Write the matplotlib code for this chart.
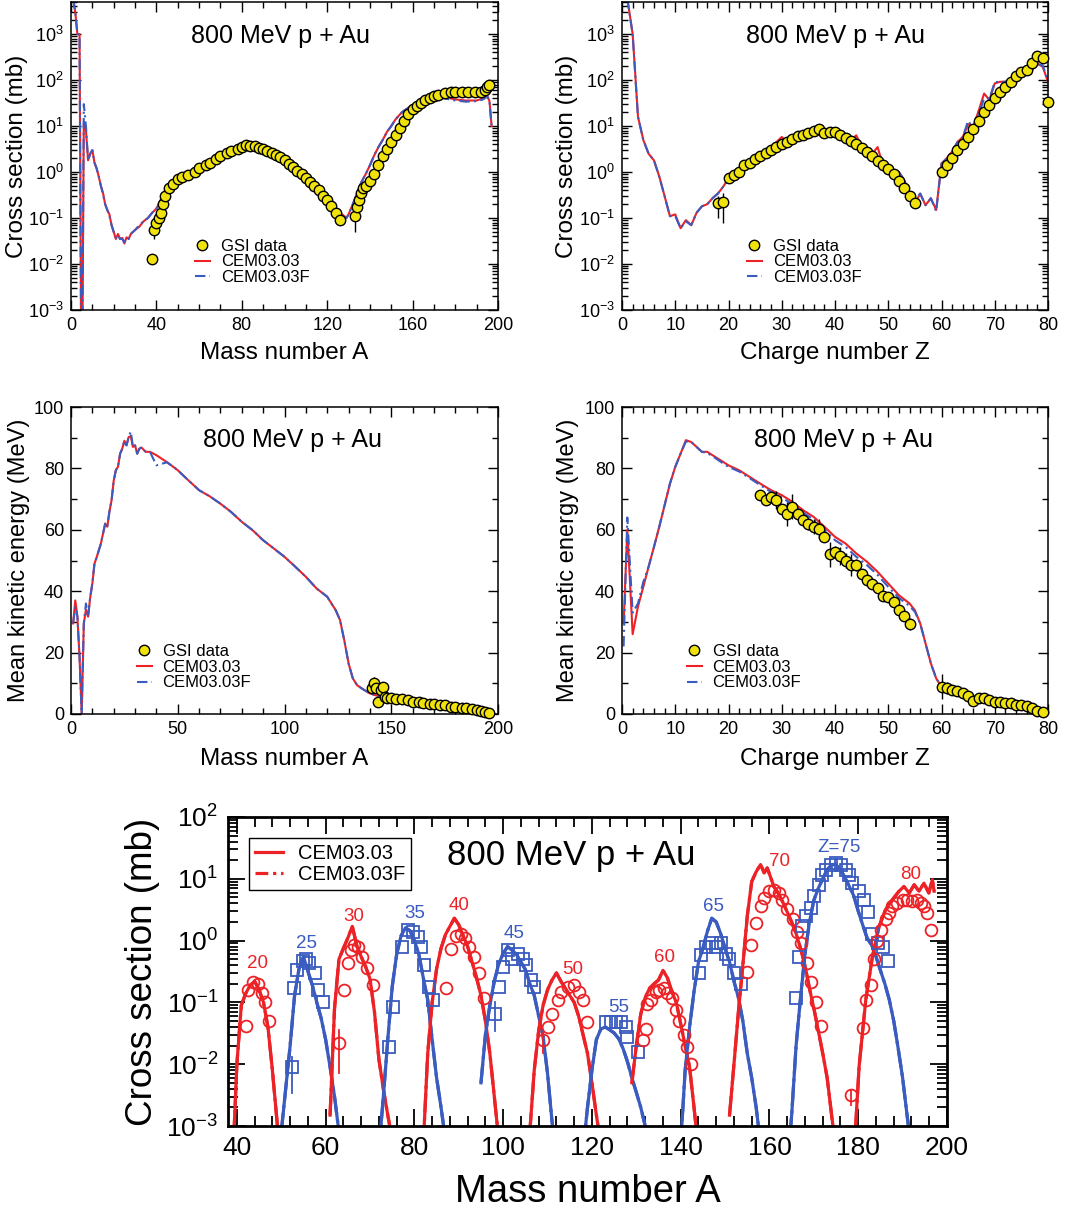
import matplotlib
matplotlib.use('Agg')
import matplotlib.pyplot as plt
from matplotlib.lines import Line2D
from matplotlib.ticker import MultipleLocator, LogLocator, NullFormatter
import numpy as np

plt.rcParams['font.family'] = ['Liberation Sans', 'DejaVu Sans']
plt.rcParams['mathtext.default'] = 'regular'

RED = '#ec2227'
BLUE = '#3a5bbf'
YEL = '#f0e20c'
DASHDOT = (0, (5, 2, 1, 2))

TITLE = '800 MeV p + Au'

# ---------------- Panel 1: mass distribution ----------------
mass_A = [1, 2, 3, 4, 5, 6, 7, 8, 9, 10, 11, 12, 13, 14, 15, 16, 17, 18, 19, 20, 21, 22, 23, 24, 25, 26, 27, 28,
          30, 32, 34, 36, 38, 40, 42, 44, 46, 48, 50,
          55, 60, 65, 70, 75, 80, 85, 90, 95, 100, 105, 110, 115, 120,
          122, 124, 126, 128, 129, 130, 132, 134, 136, 138, 140, 142, 144, 146, 148, 150, 152,
          155, 158, 160, 165, 170, 175, 180, 185, 190, 193, 195, 196, 197]
cem_mass = [6000, 3000, 1000, 1000, 1e-6, 12, 8, 1.8, 2.5, 3.0, 1.6, 1.2, 0.8, 0.5, 0.35, 0.2, 0.15, 0.12, 0.07, 0.05, 0.035, 0.045, 0.035, 0.037, 0.028, 0.038, 0.035, 0.045,
            0.055, 0.065, 0.085, 0.1, 0.13, 0.16, 0.25, 0.4, 0.5, 0.6, 0.75,
            1.0, 1.35, 1.7, 2.4, 3.0, 3.7, 4.0, 3.4, 2.6, 2.0, 1.35, 0.9, 0.55, 0.3,
            0.22, 0.16, 0.13, 0.11, 0.1, 0.12, 0.2, 0.35, 0.6, 0.9, 1.4, 2.3, 3.5, 5, 7.5, 10, 14,
            20, 25, 28, 35, 40, 43, 38, 36, 36, 40, 45, 35, 10]
cemF_mass = [6000, 3000, 1000, 1000, 1e-6, 30, 10, 1.8, 2.5, 3.0, 1.6, 1.2, 0.8, 0.5, 0.33, 0.2, 0.15, 0.11, 0.07, 0.05, 0.037, 0.042, 0.035, 0.035, 0.03, 0.036, 0.035, 0.045,
             0.055, 0.07, 0.085, 0.1, 0.13, 0.16, 0.24, 0.38, 0.5, 0.6, 0.72,
             1.0, 1.3, 1.7, 2.3, 3.0, 3.5, 3.8, 3.3, 2.5, 1.9, 1.3, 0.85, 0.52, 0.3,
             0.21, 0.15, 0.12, 0.1, 0.1, 0.12, 0.2, 0.35, 0.6, 0.9, 1.4, 2.3, 3.5, 5, 7.5, 10, 14,
             20, 25, 28, 33, 38, 40, 36, 34, 35, 38, 44, 35, 10]
gsi_mass_A = [38, 39, 40, 41, 42, 43, 44, 46, 48, 50, 52,
              55, 58, 60, 63, 65, 68, 70, 73, 75, 78, 80,
              82, 84, 86, 88, 90, 92, 94, 96, 98, 100, 102, 104, 106, 108, 110, 112, 114, 116, 118, 120, 122, 124, 126,
              133, 134, 135, 136, 137, 138,
              140, 142, 144, 146, 148, 150, 152, 154, 156, 158, 160, 162, 164, 166, 168, 170, 172,
              175, 178, 180, 183, 186, 189, 192, 194, 195, 196]
gsi_mass = [0.013, 0.055, 0.08, 0.1, 0.13, 0.2, 0.3, 0.45, 0.55, 0.7, 0.8,
            0.85, 1.0, 1.2, 1.4, 1.6, 1.9, 2.2, 2.6, 2.9, 3.2, 3.5,
            3.8, 3.7, 3.6, 3.4, 3.2, 2.9, 2.6, 2.3, 2.1, 1.8, 1.5, 1.3, 1.05, 0.9, 0.75, 0.6, 0.5, 0.4, 0.3, 0.25, 0.18, 0.13, 0.09,
            0.11, 0.17, 0.25, 0.35, 0.45, 0.5,
            0.65, 0.9, 1.4, 2.2, 3.2, 4.5, 6.5, 9, 13, 18, 23, 27, 32, 37, 41, 45, 48,
            52, 55, 56, 56, 55, 54, 56, 62, 70, 80]
err_mass_A = [39, 40, 133]
err_mass_lo = [0.035, 0.05, 0.05]
err_mass_hi = [0.07, 0.1, 0.13]

# ---------------- Panel 2: charge distribution ----------------
charge_Z = list(range(1, 81))
cem_charge = [6000, 1000, 16, 5, 2.5, 1.8, 0.8, 0.3, 0.11, 0.12, 0.06, 0.09, 0.07, 0.13, 0.18, 0.2, 0.27, 0.34, 0.48, 0.73,
              0.85, 1.1, 1.4, 1.55, 2.0, 2.3, 3.0, 3.5, 4.5, 5.8, 4.5, 6.3, 6.3, 7.5, 7.5, 8.9, 8.9, 7.5, 9, 7.5,
              7, 5.8, 5, 6.3, 3.5, 3, 2.5, 3.5, 1.4, 1.3, 1.1, 1.0, 0.67, 0.34, 0.21, 0.34, 0.19, 0.27, 0.15, 1.55,
              2, 2.8, 4.5, 5.8, 11, 10, 22, 51, 37, 85, 92, 92, 108, 128, 118, 150, 165, 230, 195, 92]
cemF_charge = [6000, 1000, 16, 5, 2.5, 1.8, 0.8, 0.3, 0.11, 0.11, 0.06, 0.085, 0.07, 0.13, 0.18, 0.2, 0.27, 0.34, 0.48, 0.7,
               0.85, 1.1, 1.4, 1.55, 2.0, 2.3, 3.0, 3.5, 4.3, 4.5, 4.8, 6.3, 6.3, 7.5, 7.5, 8.9, 8.9, 7.5, 7, 8.5,
               7, 5.8, 5, 5.5, 3.5, 3, 2.5, 2.0, 1.5, 1.3, 1.1, 1.0, 0.67, 0.34, 0.25, 0.34, 0.19, 0.27, 0.14, 1.5,
               2, 2.8, 4.5, 5.8, 13, 9, 18, 40, 40, 90, 92, 92, 108, 110, 130, 140, 170, 220, 210, 95]
gsi_charge_Z = list(range(18, 56)) + list(range(60, 81))
gsi_charge = [0.21, 0.22, 0.75, 0.85, 1.0, 1.4, 1.6, 1.9, 2.2, 2.6, 3.0, 3.5, 4.0, 4.5, 5.2, 6.0, 6.5, 7.0, 8.0, 8.5,
              7.0, 7.5, 7.5, 6.5, 5.5, 4.8, 4.0, 3.3, 2.8, 2.2, 1.7, 1.4, 1.15, 0.9, 0.65, 0.45, 0.3, 0.21,
              1.0, 1.4, 2.0, 3.0, 4.0, 5.8, 8.5, 13, 20, 29, 40, 55, 72, 90, 120, 150, 170, 230, 330, 310, 34]
err_charge_Z = [18, 19]
err_charge_lo = [0.1, 0.08]
err_charge_hi = [0.3, 0.35]

# ---------------- Panel 3: mean kinetic energy vs A ----------------
ke_A = [1, 2, 3, 4, 5, 6, 7, 8, 9, 10, 11, 12, 14, 16,
        17, 18, 19, 20, 21, 22, 23, 24, 25, 26, 27, 28, 29, 30, 31, 32, 33, 35, 37, 40,
        45, 50, 55, 60, 65, 70, 75, 80, 85, 90, 95, 100, 105, 110, 115, 120,
        122, 124, 126, 128, 130, 132, 134, 136, 140, 145, 150, 160, 170, 180, 190, 195, 197]
cem_keA = [29.5, 37, 31.7, 18.6, 0, 29.5, 34, 31.7, 38, 42.5, 49, 51, 55.5, 62,
           61, 66, 69.6, 76, 79.4, 80.5, 84.8, 86.4, 89, 87.5, 90.2, 90.5, 87, 87.5, 84.8, 86.4, 86.8, 85.4, 85.4, 84.3,
           82, 79.4, 76.1, 72.9, 70.9, 68.5, 65.8, 62.6, 59.9, 56.6, 53.9, 51.2, 48, 44.7, 40.9, 38.2,
           36, 33.8, 30.6, 24, 16.5, 11.6, 9.4, 8.4, 6.7, 5.6, 5.1, 4.0, 2.9, 2.2, 1.3, 0.4, 0]
cemF_keA = [29.5, 35, 31.7, 18.6, 0, 29.5, 36, 31.7, 38, 42.5, 49, 51, 55.5, 62,
            61, 66, 69.6, 76, 79.4, 80.5, 84.8, 86.4, 89, 87.5, 90.2, 92, 87, 87.5, 84.8, 86.4, 86.8, 85.4, 85.4, 81,
            82, 79.4, 76.1, 72.9, 70.9, 68.5, 65.8, 62.6, 59.9, 56.6, 53.9, 51.2, 48, 44.7, 40.9, 38.2,
            36, 33.8, 30.6, 24, 16.5, 11.6, 9.4, 8.4, 6.7, 5.6, 5.1, 4.0, 2.9, 2.2, 1.3, 0.4, 0]
gsi_keA_A = [141, 142, 143, 144, 145, 146, 147, 148, 150, 152, 155, 158, 160, 163, 165, 168, 170, 173, 175, 178,
             180, 183, 185, 188, 190, 192, 194, 196]
gsi_keA = [8.6, 10, 8.4, 4, 7.8, 8.9, 5.5, 5.3, 5.2, 5.0, 4.8, 4.6, 4.0, 3.8, 3.6, 3.4, 3.1, 3.0, 2.8, 2.4,
           2.2, 2.0, 1.9, 1.7, 1.4, 1.0, 0.6, 0.4]
gsi_keA_err = [1, 2, 1, 1, 1, 1, 0.5, 0.5, 0.5, 0.5, 0.5, 0.5, 0.5, 0.5, 0.5, 0.5, 0.5, 0.5, 0.5, 0.5,
               0.5, 0.5, 0.5, 0.5, 0.5, 0.5, 0.5, 0.5]

# ---------------- Panel 4: mean kinetic energy vs Z ----------------
ke_Z = [0.3, 1, 2, 3, 4, 5, 6, 7, 8, 9, 10, 11, 12, 13, 14, 15, 16, 17, 18, 19, 20,
        22, 24, 26, 28, 30, 32, 34, 36, 38, 40, 42, 44, 46, 48, 50, 52, 54,
        55, 56, 57, 58, 59, 60, 62, 65, 70, 75, 78, 79, 80]
cem_keZ = [29.5, 60, 26, 35, 41.4, 48, 54.4, 61, 68, 75, 80.5, 84.8, 89.2, 88.6, 87, 85.4, 85.4, 84.3, 83.2, 82.1, 81,
           79.4, 77.2, 75, 72.9, 71.3, 69.1, 66.4, 64.2, 61, 57.7, 55.5, 52.3, 49.6, 46.3, 42.5, 38.7, 36,
           33.8, 29.5, 23, 16.5, 11.6, 8.9, 7.3, 5.6, 4.0, 2.9, 1.8, 1.1, 0]
cemF_keZ = [22, 64, 33, 36, 43, 48, 54.4, 61, 68, 75, 80.5, 84.8, 88.8, 88.6, 87, 85.4, 85, 84, 82.8, 81.6, 80.5,
            79, 76.8, 74.5, 72.3, 70.5, 68.3, 65.6, 63.3, 60, 56.6, 54.4, 51.2, 48.5, 45.3, 41.4, 37.8, 35.2,
            33.3, 29.5, 23, 16.5, 11.6, 8.9, 7.3, 5.6, 4.0, 2.9, 1.8, 1.1, 0]
gsi_keZ_Z = list(range(26, 55)) + list(range(60, 80))
gsi_keZ = [71.3, 69.6, 70.7, 69.8, 66.9, 65.1, 67.5, 65.1, 63.1, 61.8, 61, 60.4, 57.7, 52, 52.8, 51.5, 49.9, 48.5, 48.6,
           45.6, 43.6, 42.5, 41.2, 38.4, 38, 36.6, 33.8, 31.9, 29.3,
           8.9, 8.4, 7.8, 7.6, 6.7, 6.0, 4.3, 5.1, 5.1, 4.6, 4.0, 3.8, 3.5, 3.5, 3.0, 2.9, 2.7, 1.8, 1.1, 0.8]
gsi_keZ_err = [1, 1, 1, 3, 1, 4, 4, 1.5, 1.5, 2, 2.5, 3, 1.5, 4, 2, 3, 2.5, 3.5, 2,
               1, 1, 1, 1.5, 1, 1, 1, 1, 1, 2,
               4, 2, 1, 1, 0.5, 0.5, 0.5, 0.5, 0.5, 0.5, 0.5, 0.5, 0.5, 0.5, 0.5, 0.5, 0.5, 0.5, 0.5, 0.5]

# ---------------- Panel 5: isotopic distributions ----------------
z20_A = [39, 40, 41, 42, 43, 44, 45, 46, 47, 48, 49, 50]
z20_cem = [0.0002, 0.01, 0.09, 0.14, 0.19, 0.22, 0.16, 0.1, 0.04, 0.008, 0.0013, 0.0002]
z20_dA = [42.0, 42.6, 43.6, 44.8, 45.7, 46.4, 47.3]
z20_d = [0.041, 0.16, 0.21, 0.2, 0.14, 0.1, 0.05]

z25_A = [50, 51, 52, 53, 54, 55, 56, 57, 58, 59, 60, 61, 62, 63]
z25_cem = [0.0008, 0.004, 0.02, 0.13, 0.35, 0.55, 0.32, 0.19, 0.1, 0.055, 0.025, 0.009, 0.003, 0.0008]
z25_dA = [52.4, 52.8, 53.5, 55.0, 55.5, 56.3, 57.6, 58.3, 59.3]
z25_d = [0.009, 0.17, 0.33, 0.47, 0.5, 0.43, 0.3, 0.16, 0.1]

z30_A = [61, 62, 63, 64, 65, 66, 67, 68, 69, 70, 71, 72, 73, 74, 75]
z30_cem = [0.0015, 0.08, 0.5, 0.75, 1.1, 1.7, 0.85, 0.55, 0.38, 0.24, 0.07, 0.012, 0.004, 0.0015, 0.0006]
z30_dA = [63.1, 64.2, 65.0, 65.7, 66.4, 67.2, 68.3, 69.4, 70.6]
z30_d = [0.022, 0.16, 0.43, 0.7, 0.86, 0.8, 0.55, 0.36, 0.19]

z35_A = [72, 73, 74, 75, 76, 77, 78, 79, 80, 81, 82, 83, 84, 85, 86, 87]
z35_cem = [0.0004, 0.003, 0.025, 0.18, 0.6, 1.2, 1.6, 1.45, 1.0, 0.6, 0.25, 0.11, 0.025, 0.006, 0.002, 0.0006]
z35_dA = [74.2, 75.2, 77.3, 78.5, 79.6, 80.7, 81.5, 82.2, 83.3, 84.1]
z35_d = [0.019, 0.085, 0.8, 1.5, 1.4, 1.15, 0.8, 0.4, 0.18, 0.11]

z40_A = [82, 83, 84, 85, 86, 87, 88, 89, 90, 91, 92, 93, 94, 95, 96, 97, 98, 99]
z40_cem = [0.0005, 0.015, 0.1, 0.35, 0.75, 1.25, 1.7, 2.3, 1.8, 1.2, 0.8, 0.45, 0.25, 0.13, 0.05, 0.015, 0.003, 0.0006]
z40_dA = [87.1, 88.2, 89.4, 90.5, 91.4, 92.4, 93.5, 94.5, 95.7]
z40_d = [0.17, 0.73, 1.2, 1.3, 1.1, 0.8, 0.55, 0.3, 0.12]

z45_A = [95, 96, 97, 98, 99, 100, 101, 102, 103, 104, 105, 106, 107, 108, 109, 110, 111, 112]
z45_cem = [0.005, 0.03, 0.09, 0.22, 0.42, 0.62, 0.8, 0.7, 0.6, 0.45, 0.34, 0.2, 0.13, 0.06, 0.028, 0.007, 0.0012, 0.0003]
z45_dA = [98.2, 99.0, 99.9, 101.0, 102.1, 103.3, 104.4, 105.1, 106.3, 107.0]
z45_d = [0.066, 0.18, 0.38, 0.7, 0.5, 0.6, 0.5, 0.4, 0.23, 0.18]

z50_A = [106, 107, 108, 109, 110, 111, 112, 113, 114, 115, 116, 117, 118, 119, 120, 121, 122]
z50_cem = [0.0008, 0.008, 0.035, 0.09, 0.16, 0.23, 0.3, 0.22, 0.17, 0.13, 0.1, 0.06, 0.03, 0.015, 0.005, 0.0015, 0.0005]
z50_dA = [108.9, 110.0, 111.1, 112.3, 113.0, 114.5, 116.0, 117.1, 117.9, 119.0]
z50_d = [0.025, 0.04, 0.065, 0.11, 0.15, 0.18, 0.19, 0.15, 0.11, 0.048]

z55_A = [118, 119, 120, 121, 122, 123, 124, 125, 126, 127, 128, 129, 130, 131, 132, 133]
z55_cem = [0.0004, 0.002, 0.008, 0.025, 0.037, 0.04, 0.036, 0.032, 0.026, 0.018, 0.011, 0.006, 0.0035, 0.002, 0.001, 0.0004]
z55_dA = [123.1, 124.2, 125.4, 126.5, 127.6, 128.0, 130.4]
z55_d = [0.049, 0.049, 0.049, 0.049, 0.04, 0.028, 0.016]

z60_A = [129, 130, 131, 132, 133, 134, 135, 136, 137, 138, 139, 140, 141, 142, 143, 144]
z60_cem = [0.005, 0.02, 0.065, 0.12, 0.17, 0.2, 0.23, 0.33, 0.25, 0.15, 0.1, 0.045, 0.02, 0.009, 0.002, 0.0004]
z60_dA = [131.4, 132.1, 132.5, 133.3, 134.4, 135.1, 136.3, 137.0, 138.1, 138.9, 139.6, 140.8, 141.5, 142.3]
z60_d = [0.025, 0.037, 0.095, 0.11, 0.15, 0.16, 0.17, 0.14, 0.12, 0.075, 0.05, 0.03, 0.019, 0.01]

z65_A = [140, 141, 142, 143, 144, 145, 146, 147, 148, 149, 150, 151, 152, 153, 154, 155, 156, 157, 158]
z65_cem = [0.0005, 0.008, 0.04, 0.15, 0.45, 0.75, 1.4, 2.3, 2.0, 1.3, 0.75, 0.45, 0.22, 0.12, 0.05, 0.015, 0.006, 0.002, 0.0005]
z65_dA = [144.1, 144.5, 145.6, 147.1, 147.9, 149.0, 150.2, 150.9, 152.0, 153.5]
z65_d = [0.3, 0.58, 0.8, 0.9, 0.8, 0.9, 0.6, 0.5, 0.3, 0.2]

z70_A = [151, 152, 153, 154, 155, 156, 157, 158, 158.8, 159.5, 161, 162, 163, 164, 165, 166, 167, 168, 169, 170, 171, 172, 173, 174, 175]
z70_cem = [0.0015, 0.01, 0.07, 0.4, 2.5, 9, 13, 17, 12.5, 15, 7.5, 5.8, 4.2, 2.9, 2.0, 1.3, 0.75, 0.4, 0.17, 0.08, 0.035, 0.015, 0.006, 0.0015, 0.0004]
z70_dA = [155.0, 155.8, 156.9, 158.0, 158.8, 159.9, 161.0, 162.2, 162.9, 164.0, 165.2, 166.3, 167.0, 168.5, 169.3, 170.4, 171.6, 178.3]
z70_d = [0.31, 0.85, 1.9, 3.6, 4.9, 6.3, 6.6, 5.9, 4.6, 3.2, 2.2, 1.4, 0.91, 0.44, 0.21, 0.1, 0.041, 0.0032]

z75_A = [164, 165, 166, 167, 168, 169, 170, 171, 172, 173, 174, 175, 176, 177, 178, 179, 180, 181, 182, 183, 184, 185, 186, 187, 188, 189, 190, 191, 192]
z75_cem = [0.0002, 0.0015, 0.02, 0.12, 0.6, 2.0, 4.5, 7, 10, 14, 17, 17, 14, 10.5, 7.5, 5.3, 3, 1.8, 1.1, 0.85, 0.55, 0.33, 0.2, 0.11, 0.05, 0.018, 0.006, 0.0015, 0.0004]
z75_dA = [166.0, 166.7, 167.4, 168.2, 169.3, 170.1, 171.2, 171.9, 172.7, 173.8, 174.9, 176.1, 177.2, 178.0, 178.7, 180.2, 181.4, 182.1, 183.2, 184.4, 185.5, 186.6]
z75_d = [0.12, 0.55, 1.7, 2.5, 3.4, 5.2, 8, 11.5, 14, 17, 18, 17, 14, 11.5, 8.5, 6.3, 4.5, 2.9, 1.3, 0.9, 0.8, 0.46]

z80_A = [179.0, 180.2, 181.7, 183.2, 184.7, 186.2, 187.7, 189.2, 190.3, 191.5, 192.6, 193.7, 194.8, 195.9, 196.7, 197.1]
z80_cem = [0.0003, 0.0093, 0.11, 0.55, 1.7, 3.2, 4.6, 6.3, 7.5, 5.9, 8, 6.3, 8.5, 5.9, 9.7, 6.3]
z80_dA = [181.0, 181.7, 182.8, 183.6, 184.3, 185.1, 186.2, 187.0, 187.7, 188.8, 190.0, 191.1, 192.2, 193.3, 194.1, 194.8, 195.6, 196.3]
z80_d = [0.039, 0.11, 0.19, 0.5, 1.0, 1.5, 2.2, 2.8, 3.6, 4.1, 4.6, 4.6, 4.3, 4.6, 4.1, 3.6, 2.8, 1.5]

iso_Z = [20, 25, 30, 35, 40, 45, 50, 55, 60, 65, 70, 75, 80]
iso_labels = ['20', '25', '30', '35', '40', '45', '50', '55', '60', '65', '70', 'Z=75', '80']
iso_label_A = [44.7, 55.6, 66.4, 80.0, 90.1, 102.5, 115.6, 126.1, 136.3, 147.5, 162.2, 175.7, 191.8]
iso_label_sig = [0.42, 0.89, 2.5, 2.7, 3.7, 1.3, 0.34, 0.083, 0.54, 3.5, 19, 32, 11.6]

iso_err_A = [52.4, 63.1, 98.2, 108.9, 178.3]
iso_err_lo = [0.0034, 0.0072, 0.034, 0.015, 0.0022]
iso_err_hi = [0.013, 0.036, 0.1, 0.032, 0.0038]
iso_err_Z = [25, 30, 45, 50, 70]

iso_sets = [(20, z20_A, z20_cem, z20_dA, z20_d), (25, z25_A, z25_cem, z25_dA, z25_d),
            (30, z30_A, z30_cem, z30_dA, z30_d), (35, z35_A, z35_cem, z35_dA, z35_d),
            (40, z40_A, z40_cem, z40_dA, z40_d), (45, z45_A, z45_cem, z45_dA, z45_d),
            (50, z50_A, z50_cem, z50_dA, z50_d), (55, z55_A, z55_cem, z55_dA, z55_d),
            (60, z60_A, z60_cem, z60_dA, z60_d), (65, z65_A, z65_cem, z65_dA, z65_d),
            (70, z70_A, z70_cem, z70_dA, z70_d), (75, z75_A, z75_cem, z75_dA, z75_d),
            (80, z80_A, z80_cem, z80_dA, z80_d)]


def zcolor(z):
    return RED if z % 10 == 0 else BLUE


# ---------------- Figure ----------------
W, H = 1081, 1215
fig = plt.figure(figsize=(W / 100, H / 100), dpi=100)


def ax_px(l, t, r, b):
    return fig.add_axes([l / W, 1 - b / H, (r - l) / W, (b - t) / H])


def style_small(ax, xmaj, xmin, logy):
    ax.tick_params(which='both', direction='in', top=True, right=True, labelsize=13, width=1.0, pad=5)
    ax.tick_params(which='major', length=7.5)
    ax.tick_params(which='minor', length=4.5)
    ax.xaxis.set_major_locator(MultipleLocator(xmaj))
    ax.xaxis.set_minor_locator(MultipleLocator(xmin))
    if logy:
        ax.set_yscale('log')
        ax.yaxis.set_major_locator(LogLocator(base=10, numticks=20))
        ax.yaxis.set_minor_locator(LogLocator(base=10, subs=np.arange(2, 10), numticks=20))
        ax.yaxis.set_minor_formatter(NullFormatter())
    else:
        ax.yaxis.set_major_locator(MultipleLocator(20))
        ax.yaxis.set_minor_locator(MultipleLocator(10))
    for s in ax.spines.values():
        s.set_linewidth(1.1)


def small_legend(ax, x, y):
    h = [Line2D([], [], ls='none', marker='o', ms=7.5, mfc=YEL, mec='k', mew=1),
         Line2D([], [], color=RED, lw=1.5),
         Line2D([], [], color=BLUE, lw=1.5, ls=DASHDOT)]
    ax.legend(h, ['GSI data', 'CEM03.03', 'CEM03.03F'], loc='upper left', bbox_to_anchor=(x, y),
              frameon=False, fontsize=12, handlelength=0.9, handletextpad=0.65, labelspacing=0.05,
              borderpad=0, borderaxespad=0)


def asym(vals, lo, hi):
    return [[v - l for v, l in zip(vals, lo)], [h - v for v, h in zip(vals, hi)]]


gsi_style = dict(ls='none', marker='o', ms=7.5, mfc=YEL, mec='k', mew=1, zorder=5)

# Panel 1
ax1 = ax_px(71, 2, 498, 310)
style_small(ax1, 40, 10, True)
ax1.plot(mass_A, cem_mass, color=RED, lw=1.5)
ax1.plot(mass_A, cemF_mass, color=BLUE, lw=1.5, ls=DASHDOT)
err_vals = [gsi_mass[gsi_mass_A.index(a)] for a in err_mass_A]
ax1.errorbar(err_mass_A, err_vals, yerr=asym(err_vals, err_mass_lo, err_mass_hi), fmt='none', ecolor='k', elinewidth=1, zorder=4)
ax1.plot(gsi_mass_A, gsi_mass, **gsi_style)
ax1.set_xlim(0, 200)
ax1.set_ylim(1e-3, 5e3)
ax1.set_xlabel('Mass number A', fontsize=17.5)
ax1.set_ylabel('Cross section (mb)', fontsize=17.5)
ax1.xaxis.set_label_coords(0.5, -0.105)
ax1.yaxis.set_label_coords(-0.10, 0.5)
ax1.text(0.49, 0.89, TITLE, transform=ax1.transAxes, ha='center', va='center', fontsize=18)
small_legend(ax1, 0.29, 0.232)

# Panel 2
ax2 = ax_px(622, 2, 1048, 310)
style_small(ax2, 10, 2, True)
ax2.plot(charge_Z, cem_charge, color=RED, lw=1.5)
ax2.plot(charge_Z, cemF_charge, color=BLUE, lw=1.5, ls=DASHDOT)
err_vals = [gsi_charge[gsi_charge_Z.index(z)] for z in err_charge_Z]
ax2.errorbar(err_charge_Z, err_vals, yerr=asym(err_vals, err_charge_lo, err_charge_hi), fmt='none', ecolor='k', elinewidth=1, zorder=4)
ax2.plot(gsi_charge_Z, gsi_charge, clip_on=False, **gsi_style)
ax2.set_xlim(0, 80)
ax2.set_ylim(1e-3, 5e3)
ax2.set_xlabel('Charge number Z', fontsize=17.5)
ax2.set_ylabel('Cross section (mb)', fontsize=17.5)
ax2.xaxis.set_label_coords(0.5, -0.105)
ax2.yaxis.set_label_coords(-0.103, 0.5)
ax2.text(0.50, 0.89, TITLE, transform=ax2.transAxes, ha='center', va='center', fontsize=18)
small_legend(ax2, 0.293, 0.232)

# Panel 3
ax3 = ax_px(71, 407, 498, 714)
style_small(ax3, 50, 10, False)
ax3.plot(ke_A, cem_keA, color=RED, lw=1.5)
ax3.plot(ke_A, cemF_keA, color=BLUE, lw=1.5, ls=DASHDOT)
ax3.errorbar(gsi_keA_A, gsi_keA, yerr=gsi_keA_err, fmt='none', ecolor='k', elinewidth=1, zorder=4)
ax3.plot(gsi_keA_A, gsi_keA, clip_on=False, **gsi_style)
ax3.set_xlim(0, 200)
ax3.set_ylim(0, 100)
ax3.set_xlabel('Mass number A', fontsize=17.5)
ax3.set_ylabel('Mean kinetic energy (MeV)', fontsize=17)
ax3.xaxis.set_label_coords(0.5, -0.11)
ax3.yaxis.set_label_coords(-0.096, 0.5)
ax3.text(0.518, 0.892, TITLE, transform=ax3.transAxes, ha='center', va='center', fontsize=18)
small_legend(ax3, 0.154, 0.229)

# Panel 4
ax4 = ax_px(622, 407, 1048, 714)
style_small(ax4, 10, 2, False)
ax4.plot(ke_Z, cem_keZ, color=RED, lw=1.5)
ax4.plot(ke_Z, cemF_keZ, color=BLUE, lw=1.5, ls=DASHDOT)
ax4.errorbar(gsi_keZ_Z, gsi_keZ, yerr=gsi_keZ_err, fmt='none', ecolor='k', elinewidth=1, zorder=4)
ax4.plot(gsi_keZ_Z, gsi_keZ, clip_on=False, **gsi_style)
ax4.set_xlim(0, 80)
ax4.set_ylim(0, 100)
ax4.set_xlabel('Charge number Z', fontsize=17.5)
ax4.set_ylabel('Mean kinetic energy (MeV)', fontsize=17)
ax4.xaxis.set_label_coords(0.5, -0.11)
ax4.yaxis.set_label_coords(-0.10, 0.5)
ax4.text(0.52, 0.892, TITLE, transform=ax4.transAxes, ha='center', va='center', fontsize=18)
small_legend(ax4, 0.152, 0.229)

# Panel 5
ax5 = ax_px(228, 817, 947, 1126)
ax5.set_yscale('log')
for z, A, cem, dA, d in iso_sets:
    c = zcolor(z)
    ax5.plot(A, cem, color=c, lw=2.3, ls=(0, (6, 1.5, 1, 1.5)))
    ax5.plot(A, cem, color=c, lw=2.3)
    mk = 'o' if c == RED else 's'
    ax5.plot(dA, d, ls='none', marker=mk, ms=8.5 if mk == 'o' else 8, mfc='none', mec=c, mew=1.3, zorder=5)
for a, lo, hi, z in zip(iso_err_A, iso_err_lo, iso_err_hi, iso_err_Z):
    ax5.plot([a, a], [lo, hi], color=zcolor(z), lw=1.3, zorder=4)
for lab, a, s, z in zip(iso_labels, iso_label_A, iso_label_sig, iso_Z):
    ax5.text(a, s, lab, color=zcolor(z), ha='center', va='center', fontsize=13.5)
ax5.set_xlim(38, 200)
ax5.set_ylim(1e-3, 1e2)
ax5.xaxis.set_major_locator(MultipleLocator(20))
ax5.xaxis.set_minor_locator(MultipleLocator(4))
ax5.yaxis.set_major_locator(LogLocator(base=10, numticks=20))
ax5.yaxis.set_minor_locator(LogLocator(base=10, subs=np.arange(2, 10), numticks=20))
ax5.yaxis.set_minor_formatter(NullFormatter())
ax5.tick_params(which='both', direction='in', top=True, right=True, labelsize=19, width=1.3, pad=7)
ax5.tick_params(which='major', length=12)
ax5.tick_params(which='minor', length=7)
for s in ax5.spines.values():
    s.set_linewidth(2)
ax5.set_xlabel('Mass number A', fontsize=27.5)
ax5.set_ylabel('Cross section (mb)', fontsize=26.5)
ax5.xaxis.set_label_coords(0.5, -0.155)
ax5.yaxis.set_label_coords(-0.094, 0.5)
ax5.text(0.478, 0.877, TITLE, transform=ax5.transAxes, ha='center', va='center', fontsize=25)
h5 = [Line2D([], [], color=RED, lw=2.3), Line2D([], [], color=RED, lw=2.3, ls=(0, (4, 1.5, 1, 1.5)))]
leg5 = ax5.legend(h5, ['CEM03.03', 'CEM03.03F'], loc='upper left', bbox_to_anchor=(0.029, 0.932),
                  borderaxespad=0, fontsize=14.5, handlelength=1.4, handletextpad=0.75, labelspacing=0.1,
                  borderpad=0.3, fancybox=False, framealpha=1, edgecolor='k')
leg5.get_frame().set_linewidth(1.0)

fig.savefig('out.png', dpi=100)
